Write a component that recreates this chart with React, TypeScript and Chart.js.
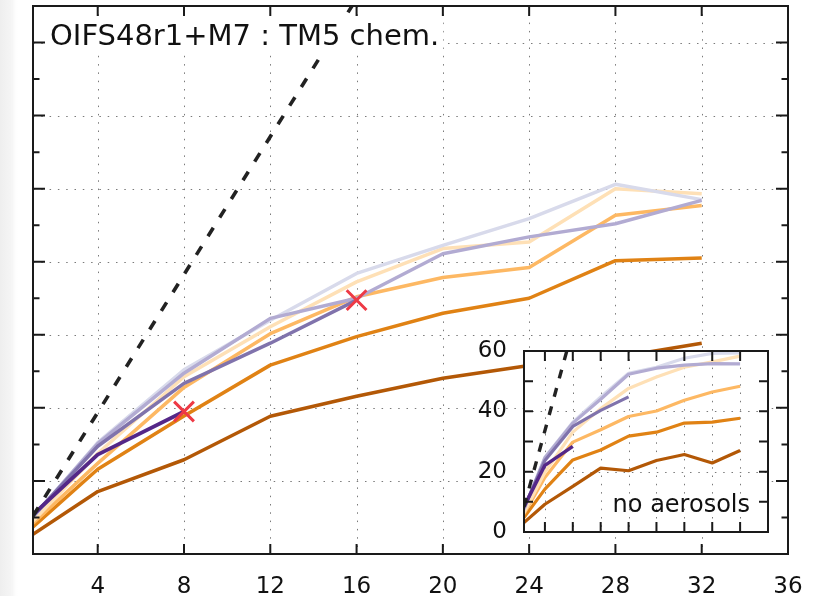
import { useEffect, useRef } from "react";
import { Chart, registerables } from "chart.js";

Chart.register(...registerables);

// Node counts at which each configuration was timed
const nodes = [1, 4, 8, 12, 16, 20, 24, 28, 32];
const xTickValues = [4, 8, 12, 16, 20, 24, 28, 32, 36];

// Main panel: OIFS48r1 + M7 aerosols with TM5 chemistry
const chemDarkBrown = [5.4, 17.1, 25.8, 37.7, 43.2, 48.1, 51.6, 53.8, 57.7];
const chemOrange = [7.4, 23.2, 37.8, 51.7, 59.5, 65.9, 70.0, 80.3, 81.0];
const chemLightOrange = [8.4, 24.8, 45.6, 60.3, 70.4, 75.7, 78.4, 92.7, 95.4];
const chemPaleOrange = [9.0, 27.5, 48.5, 62.2, 74.5, 83.6, 85.4, 100.0, 98.6];
const chemPaleLavender = [10.0, 30.5, 50.4, 64.0, 76.8, 84.5, 91.8, 101.2, 97.0];
const chemLavender = [10.2, 30.2, 49.5, 64.5, 70.0, 82.2, 86.8, 90.4, 96.8];
const chemPurple = [10.4, 29.5, 46.7, 57.7, 69.5];
const chemDarkPurple = [10.8, 27.2, 39.0];
const chemIdealX = [1, 16];
const chemIdealY = [10.4, 152];
const chemMarkX = [8, 16];
const chemMarkY = [39.0, 69.5];
const chemYMajor = [20, 40, 60, 80, 100, 120, 140];
const chemYMinor = [10, 30, 50, 70, 90, 110, 130];

// Inset: same configurations without aerosols
const noAerDarkBrown = [3.1, 9.2, 15.1, 21.2, 20.3, 23.7, 25.7, 22.9, 27.0];
const noAerOrange = [4.8, 14.2, 23.9, 27.2, 31.8, 33.1, 36.1, 36.4, 37.7];
const noAerLightOrange = [6.0, 18.1, 29.8, 33.9, 38.3, 40.1, 43.7, 46.4, 48.3];
const noAerPaleOrange = [6.4, 19.8, 33.1, 40.9, 47.6, 51.4, 54.6, 56.4, 58.3];
const noAerPaleLavender = [7.6, 24.8, 36.4, 44.8, 52.6, 54.6, 57.6, 59.2, 59.4];
const noAerLavender = [7.6, 24.6, 36.1, 44.0, 52.3, 54.3, 55.3, 55.8, 55.7];
const noAerPurple = [8.1, 23.7, 35.0, 40.3, 44.8];
const noAerDarkPurple = [8.4, 22.1, 28.4];
const noAerIdealX = [1, 7.14];
const noAerIdealY = [8.4, 60];
const noAerYGrid = [20, 40];
const noAerYTicks = [10, 20, 30, 40, 50];

const COLORS = {
  darkBrown: "#b35806",
  orange: "#e08214",
  lightOrange: "#fdb863",
  paleOrange: "#fee0b6",
  paleLavender: "#d8daeb",
  lavender: "#b2abd2",
  purple: "#8073ac",
  darkPurple: "#542788",
};

const FONT = '"DejaVu Sans", "Liberation Sans", sans-serif';

const pts = (xs: number[], ys: number[]) => ys.map((y, i) => ({ x: xs[i], y }));

const series = (ys: number[], color: string, width: number) => ({
  data: pts(nodes, ys),
  borderColor: color,
  borderWidth: width,
  borderJoinStyle: "round" as const,
  pointRadius: 0,
  fill: false,
  tension: 0,
});

function dotted(ctx: CanvasRenderingContext2D, x1: number, y1: number, x2: number, y2: number) {
  ctx.beginPath();
  ctx.moveTo(x1, y1);
  ctx.lineTo(x2, y2);
  ctx.stroke();
}

function inwardTicks(
  chart: any,
  xVals: number[],
  yVals: { v: number; len: number }[],
  xLen: number
) {
  const { ctx, chartArea: a, scales } = chart;
  ctx.save();
  ctx.strokeStyle = "#1a1a1a";
  ctx.lineWidth = 2;
  ctx.setLineDash([]);
  ctx.beginPath();
  for (const v of xVals) {
    const px = scales.x.getPixelForValue(v);
    ctx.moveTo(px, a.top);
    ctx.lineTo(px, a.top + xLen);
    ctx.moveTo(px, a.bottom);
    ctx.lineTo(px, a.bottom - xLen);
  }
  for (const t of yVals) {
    const py = scales.y.getPixelForValue(t.v);
    ctx.moveTo(a.left, py);
    ctx.lineTo(a.left + t.len, py);
    ctx.moveTo(a.right, py);
    ctx.lineTo(a.right - t.len, py);
  }
  ctx.stroke();
  ctx.strokeRect(a.left, a.top, a.right - a.left, a.bottom - a.top);
  ctx.restore();
}

const mainDecor = {
  id: "mainDecor",
  beforeDraw(chart: any) {
    const { ctx } = chart;
    ctx.save();
    const g = ctx.createLinearGradient(0, 0, 18, 0);
    g.addColorStop(0, "rgba(236,236,236,0.9)");
    g.addColorStop(0.7, "rgba(242,242,242,0.7)");
    g.addColorStop(1, "rgba(255,255,255,0)");
    ctx.fillStyle = g;
    ctx.fillRect(0, 0, 18, chart.height);
    ctx.restore();
  },
  beforeDatasetsDraw(chart: any) {
    const { ctx, chartArea: a, scales } = chart;
    ctx.save();
    ctx.strokeStyle = "#7a7a7a";
    ctx.lineWidth = 1;
    ctx.setLineDash([1.5, 6.8]);
    for (const v of xTickValues) {
      if (v >= 36) continue;
      const px = Math.round(scales.x.getPixelForValue(v)) + 0.5;
      dotted(ctx, px, a.top, px, a.bottom);
    }
    for (const v of chemYMajor) {
      const py = Math.round(scales.y.getPixelForValue(v)) + 0.5;
      dotted(ctx, a.left, py, a.right, py);
    }
    ctx.restore();
  },
  afterDatasetsDraw(chart: any) {
    const { ctx } = chart;
    // title with a white backing box
    ctx.save();
    ctx.font = `29px ${FONT}`;
    const title = "OIFS48r1+M7 : TM5 chem.";
    const w = ctx.measureText(title).width;
    ctx.fillStyle = "#ffffff";
    ctx.fillRect(46, 17, w + 8, 36);
    ctx.fillStyle = "#111111";
    ctx.textBaseline = "alphabetic";
    ctx.fillText(title, 50, 45);
    ctx.restore();
    inwardTicks(
      chart,
      xTickValues.filter((v) => v < 36),
      [
        ...chemYMajor.map((v) => ({ v, len: 12 })),
        ...chemYMinor.map((v) => ({ v, len: 6.5 })),
      ],
      10
    );
  },
};

const insetDecor = {
  id: "insetDecor",
  beforeDatasetsDraw(chart: any) {
    const { ctx, chartArea: a, scales } = chart;
    ctx.save();
    ctx.fillStyle = "#ffffff";
    ctx.fillRect(a.left, a.top, a.right - a.left, a.bottom - a.top);
    ctx.strokeStyle = "#7a7a7a";
    ctx.lineWidth = 1;
    ctx.setLineDash([1.5, 6.8]);
    for (const v of xTickValues) {
      if (v >= 36) continue;
      const px = Math.round(scales.x.getPixelForValue(v)) + 0.5;
      dotted(ctx, px, a.top, px, a.bottom);
    }
    for (const v of noAerYGrid) {
      const py = Math.round(scales.y.getPixelForValue(v)) + 0.5;
      dotted(ctx, a.left, py, a.right, py);
    }
    ctx.restore();
  },
  afterDatasetsDraw(chart: any) {
    const { ctx, chartArea: a } = chart;
    ctx.save();
    ctx.font = `24px ${FONT}`;
    ctx.fillStyle = "#111111";
    ctx.textAlign = "right";
    ctx.textBaseline = "alphabetic";
    ctx.fillText("no aerosols", a.right - 18, a.bottom - 20);
    ctx.restore();
    inwardTicks(
      chart,
      xTickValues.filter((v) => v < 36),
      noAerYTicks.map((v) => ({ v, len: 9 })),
      10
    );
  },
};

export default function App() {
  const mainRef = useRef<HTMLCanvasElement>(null);
  const insetRef = useRef<HTMLCanvasElement>(null);

  useEffect(() => {
    const mainChart = new Chart(mainRef.current!, {
      type: "line",
      data: {
        datasets: [
          {
            data: pts(chemMarkX, chemMarkY),
            showLine: false,
            pointStyle: "crossRot",
            pointRadius: 14,
            pointBorderWidth: 3,
            pointBorderColor: "#ee3a45",
            borderColor: "#ee3a45",
          },
          {
            data: pts(chemIdealX, chemIdealY),
            borderColor: "#222222",
            borderWidth: 3.6,
            borderDash: [10, 12],
            pointRadius: 0,
            tension: 0,
          },
          series(chemDarkPurple, COLORS.darkPurple, 3.8),
          series(chemPurple, COLORS.purple, 3.5),
          series(chemLavender, COLORS.lavender, 3.5),
          series(chemPaleLavender, COLORS.paleLavender, 3.5),
          series(chemPaleOrange, COLORS.paleOrange, 3.5),
          series(chemLightOrange, COLORS.lightOrange, 3.5),
          series(chemOrange, COLORS.orange, 3.5),
          series(chemDarkBrown, COLORS.darkBrown, 3.5),
        ] as any,
      },
      options: {
        responsive: false,
        animation: false,
        events: [],
        layout: { autoPadding: false, padding: { left: 33, right: 34, top: 6, bottom: 0 } },
        plugins: { legend: { display: false }, tooltip: { enabled: false } },
        scales: {
          x: {
            type: "linear",
            min: 1,
            max: 36,
            afterBuildTicks: (s: any) => {
              s.ticks = xTickValues.map((v) => ({ value: v }));
            },
            afterFit: (s: any) => {
              s.height = 42;
              s.paddingLeft = 0;
              s.paddingRight = 0;
            },
            ticks: {
              autoSkip: false,
              maxRotation: 0,
              padding: 19,
              color: "#111111",
              font: { family: FONT, size: 23 },
            },
            grid: { display: false, drawTicks: false },
            border: { display: false },
          },
          y: { display: false, min: 0, max: 150 },
        },
      },
      plugins: [mainDecor],
    });

    const insetChart = new Chart(insetRef.current!, {
      type: "line",
      data: {
        datasets: [
          {
            data: pts(noAerIdealX, noAerIdealY),
            borderColor: "#222222",
            borderWidth: 3.4,
            borderDash: [9, 10],
            pointRadius: 0,
            tension: 0,
          },
          series(noAerDarkPurple, COLORS.darkPurple, 3.5),
          series(noAerPurple, COLORS.purple, 3.2),
          series(noAerLavender, COLORS.lavender, 3.2),
          series(noAerPaleLavender, COLORS.paleLavender, 3.2),
          series(noAerPaleOrange, COLORS.paleOrange, 3.2),
          series(noAerLightOrange, COLORS.lightOrange, 3.2),
          series(noAerOrange, COLORS.orange, 3.2),
          series(noAerDarkBrown, COLORS.darkBrown, 3.2),
        ] as any,
      },
      options: {
        responsive: false,
        animation: false,
        events: [],
        layout: { autoPadding: false, padding: { left: 0, right: 10, top: 21, bottom: 28 } },
        plugins: { legend: { display: false }, tooltip: { enabled: false } },
        scales: {
          x: { type: "linear", display: false, min: 1, max: 36 },
          y: {
            min: 0,
            max: 60,
            afterFit: (s: any) => {
              s.width = 58;
              s.paddingTop = 0;
              s.paddingBottom = 0;
            },
            ticks: {
              stepSize: 20,
              padding: 17,
              color: "#111111",
              font: { family: FONT, size: 23 },
            },
            grid: { display: false, drawTicks: false },
            border: { display: false },
          },
        },
      },
      plugins: [insetDecor],
    });

    return () => {
      mainChart.destroy();
      insetChart.destroy();
    };
  }, []);

  return (
    <div style={{ position: "fixed", left: 0, top: 0, width: 822, height: 596, background: "#ffffff" }}>
      <canvas
        ref={mainRef}
        width={822}
        height={596}
        style={{ position: "absolute", left: 0, top: 0 }}
      />
      <canvas
        ref={insetRef}
        width={312}
        height={230}
        style={{ position: "absolute", left: 466, top: 330 }}
      />
    </div>
  );
}
